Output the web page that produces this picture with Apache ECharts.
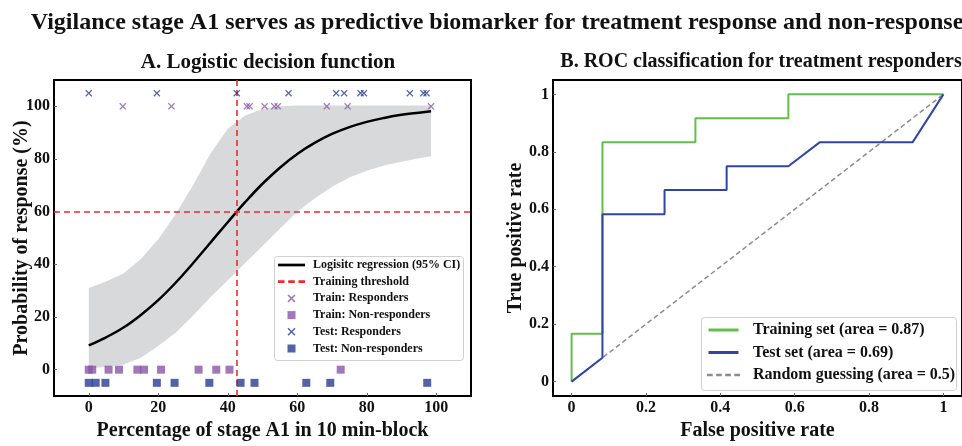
<!DOCTYPE html>
<html><head><meta charset="utf-8">
<script src="https://cdn.jsdelivr.net/npm/echarts@6/dist/echarts.min.js"></script>
<style>html,body{margin:0;padding:0;background:#fff}#c{width:962px;height:446px}</style>
</head><body><div id="c"></div>
<script>
// ---- data ----
const curveX   = [0, 5, 10, 15, 20, 25, 30, 35, 40, 45, 50, 55, 60, 65, 70, 75, 80, 85, 90, 95, 98.5];
const curveY   = [9.2, 12.3, 16.0, 20.8, 26.4, 33.0, 40.4, 48.2, 56.0, 63.6, 70.6, 76.7, 81.9, 86.1, 89.5, 92.1, 94.1, 95.6, 96.8, 97.6, 98.1];
const ciUpper  = [31, 33.5, 36.5, 42, 49.5, 59, 70, 82, 91.5, 96.5, 99, 100, 100.3, 100.3, 100.3, 100.3, 100.3, 100.3, 100.3, 100.3, 100.3];
const ciLower  = [0.5, 1, 2, 4.5, 9, 14, 20.5, 27.5, 34, 40.5, 47, 53.5, 60, 65, 69.5, 73, 75.5, 77.5, 79, 80.3, 81];
const thresholdX = 42.6, thresholdY = 60;
const trainRespX    = [9.8, 23.8, 45.5, 46.3, 50.6, 53.4, 54.4, 68.5, 74.5, 98.5];
const trainNonRespX = [0, 1, 5.7, 8.7, 14, 15.9, 20.8, 31.6, 36.7, 40.5, 72.5];
const testRespX     = [0, 19.6, 42.6, 57.5, 71.2, 73.5, 78.2, 79.2, 92.4, 96.3, 97.2];
const testNonRespX  = [0, 2, 4.8, 19.6, 24.7, 34.7, 43.7, 47.7, 62.6, 69.5, 97.4];
const rowLevels = {trainResp: 100, testResp: 105, trainNon: 0, testNon: -5};
const leftTicks = [0, 20, 40, 60, 80, 100];

const trainFPR = [0, 0, 0.083, 0.083, 0.333, 0.333, 0.583, 0.583, 1];
const trainTPR = [0, 0.167, 0.167, 0.833, 0.833, 0.917, 0.917, 1, 1];
const testFPR  = [0, 0.083, 0.083, 0.25, 0.25, 0.417, 0.417, 0.583, 0.667, 0.917, 1];
const testTPR  = [0, 0.083, 0.583, 0.583, 0.667, 0.667, 0.75, 0.75, 0.833, 0.833, 1];
const randFPR = [0, 1], randTPR = [0, 1];
const rocTicks = [0, 0.2, 0.4, 0.6, 0.8, 1];

// ---- styling ----
const FONT = '"Liberation Serif", "Times New Roman", serif';
const XPATH = 'path://M0,1.3L1.3,0L5,3.7L8.7,0L10,1.3L6.3,5L10,8.7L8.7,10L5,6.3L1.3,10L0,8.7L3.7,5Z';
const SQPATH = 'path://M0,0h10v10h-10z';
const LINEPATH = 'path://M0,0h30v3h-30z';
const DASH3 = 'path://M0,0h7v3h-7zM11,0h7v3h-7zM22,0h7v3h-7z';
const DASH4 = 'path://M0,0h5v2h-5zM8,0h5v2h-5zM16,0h5v2h-5zM24,0h5v2h-5z';
const C = {purple: '#8a55a8', blue: '#283c92', red: '#ee2a2f', green: '#62bf4e', rocBlue: '#3146a0', band: '#d8d9db', grey: '#8c8c8c'};

const zip = (a, b) => a.map((v, i) => [v, b[i]]);
const row = (xs, y) => xs.map(v => [v, y]);

function axisCommon(ticks) {
  return {
    axisLine: {show: true, onZero: false, lineStyle: {color: '#000', width: 2}},
    axisTick: {show: true, inside: true, length: 3, customValues: ticks, lineStyle: {color: '#666', width: 1}},
    axisLabel: {customValues: ticks, color: '#111', fontFamily: FONT, fontWeight: 'bold', fontSize: 16, margin: 4},
    splitLine: {show: false},
    nameLocation: 'middle',
    nameMoveOverlap: false,
    nameTextStyle: {color: '#111', fontFamily: FONT, fontWeight: 'bold', fontSize: 20}
  };
}

const bandData = curveX.map((x, i) => [x, ciLower[i], ciUpper[i]]);

const chart = echarts.init(document.getElementById('c'), null, {renderer: 'canvas'});
chart.setOption({
  backgroundColor: '#fff',
  animation: false,
  title: [
    {text: 'Vigilance stage A1 serves as predictive biomarker for treatment response and non-response', left: 492, textAlign: 'center', top: 6,
     textStyle: {fontFamily: FONT, fontWeight: 'bold', fontSize: 24, color: '#111'}},
    {text: 'A. Logistic decision function', left: 263, textAlign: 'center', top: 47,
     textStyle: {fontFamily: FONT, fontWeight: 'bold', fontSize: 21, color: '#111'}},
    {text: 'B. ROC classification for treatment responders', left: 756, textAlign: 'center', top: 47,
     textStyle: {fontFamily: FONT, fontWeight: 'bold', fontSize: 20, color: '#111'}}
  ],
  grid: [
    {left: 54, top: 80, width: 417, height: 318, show: true, borderColor: '#000', borderWidth: 2, backgroundColor: '#fff'},
    {left: 553, top: 80, width: 416, height: 318, show: true, borderColor: '#000', borderWidth: 2, backgroundColor: '#fff'}
  ],
  xAxis: [
    Object.assign(axisCommon(leftTicks), {gridIndex: 0, type: 'value', min: -10, max: 110, name: 'Percentage of stage A1 in 10 min-block', nameGap: 25}),
    Object.assign(axisCommon(rocTicks), {gridIndex: 1, type: 'value', min: -0.05, max: 1.05, name: 'False positive rate', nameGap: 25})
  ],
  yAxis: [
    Object.assign(axisCommon(leftTicks), {gridIndex: 0, type: 'value', min: -10, max: 110, name: 'Probability of response (%)', nameGap: 22}),
    Object.assign(axisCommon(rocTicks), {gridIndex: 1, type: 'value', min: -0.05, max: 1.05, name: 'True positive rate', nameGap: 27})
  ],
  legend: [
    {orient: 'vertical', left: 278, top: 257, padding: 0, itemGap: 0.7, itemWidth: 27, itemHeight: 8,
     symbolKeepAspect: true, z: 6,
     textStyle: {fontFamily: FONT, fontWeight: 'bold', fontSize: 12, color: '#111', lineHeight: 16, padding: [0, 0, 0, 3]},
     data: [
       {name: 'Logisitc regression (95% CI)', icon: LINEPATH},
       {name: 'Training threshold', icon: DASH3},
       {name: 'Train: Responders', icon: XPATH},
       {name: 'Train: Non-responders', icon: SQPATH},
       {name: 'Test: Responders', icon: XPATH},
       {name: 'Test: Non-responders', icon: SQPATH}
     ]},
    {orient: 'vertical', left: 707, top: 320.5, padding: 0, itemGap: 3.5, itemWidth: 33, itemHeight: 3,
     symbolKeepAspect: true, z: 6,
     textStyle: {fontFamily: FONT, fontWeight: 'bold', fontSize: 16, color: '#111', lineHeight: 19, padding: [0, 0, 0, 8]},
     data: [
       {name: 'Training set (area = 0.87)', icon: LINEPATH},
       {name: 'Test set (area = 0.69)', icon: LINEPATH},
       {name: 'Random guessing (area = 0.5)', icon: DASH4}
     ]}
  ],
  graphic: [
    {type: 'rect', z: 4, shape: {x: 274.5, y: 256.5, width: 189, height: 104, r: 3}, style: {fill: 'rgba(255,255,255,0.85)', stroke: '#d0d0d0', lineWidth: 1}},
    {type: 'rect', z: 4, shape: {x: 701.5, y: 317.5, width: 255, height: 73, r: 3}, style: {fill: 'rgba(255,255,255,0.85)', stroke: '#d0d0d0', lineWidth: 1}}
  ],
  series: [
    {type: 'custom', xAxisIndex: 0, yAxisIndex: 0, data: bandData, silent: true, z: 1, clip: true,
     renderItem: function (params, api) {
       if (params.dataIndex !== 0) return null;
       const up = [], lo = [];
       for (let i = 0; i < bandData.length; i++) {
         up.push(api.coord([bandData[i][0], bandData[i][2]]));
         lo.push(api.coord([bandData[i][0], bandData[i][1]]));
       }
       return {type: 'polygon', shape: {points: up.concat(lo.reverse())}, style: {fill: C.band}};
     }},
    {name: 'Logisitc regression (95% CI)', type: 'line', xAxisIndex: 0, yAxisIndex: 0, data: zip(curveX, curveY), symbol: 'none', smooth: 0.4,
     color: '#000', lineStyle: {color: '#000', width: 2.5}, z: 3},
    {name: 'Training threshold', type: 'line', xAxisIndex: 0, yAxisIndex: 0, data: [], color: C.red, z: 3,
     markLine: {silent: true, symbol: 'none', label: {show: false}, lineStyle: {color: C.red, type: [6, 4], width: 1.6},
       data: [{xAxis: thresholdX}, {yAxis: thresholdY}]}},
    {name: 'Train: Responders', type: 'scatter', xAxisIndex: 0, yAxisIndex: 0, data: row(trainRespX, rowLevels.trainResp), symbol: XPATH, symbolSize: 7, color: C.purple, z: 5},
    {name: 'Train: Non-responders', type: 'scatter', xAxisIndex: 0, yAxisIndex: 0, data: row(trainNonRespX, rowLevels.trainNon), symbol: SQPATH, symbolSize: 8, color: C.purple, z: 5},
    {name: 'Test: Responders', type: 'scatter', xAxisIndex: 0, yAxisIndex: 0, data: row(testRespX, rowLevels.testResp), symbol: XPATH, symbolSize: 7, color: C.blue, z: 5},
    {name: 'Test: Non-responders', type: 'scatter', xAxisIndex: 0, yAxisIndex: 0, data: row(testNonRespX, rowLevels.testNon), symbol: SQPATH, symbolSize: 8, color: C.blue, z: 5},
    {name: 'Training set (area = 0.87)', type: 'line', xAxisIndex: 1, yAxisIndex: 1, data: zip(trainFPR, trainTPR), symbol: 'none', color: C.green, lineStyle: {width: 2}, z: 3},
    {name: 'Test set (area = 0.69)', type: 'line', xAxisIndex: 1, yAxisIndex: 1, data: zip(testFPR, testTPR), symbol: 'none', color: C.rocBlue, lineStyle: {width: 2}, z: 3},
    {name: 'Random guessing (area = 0.5)', type: 'line', xAxisIndex: 1, yAxisIndex: 1, data: zip(randFPR, randTPR), symbol: 'none', color: C.grey, lineStyle: {width: 1.5, type: [5, 3]}, z: 2}
  ]
});
</script></body></html>
